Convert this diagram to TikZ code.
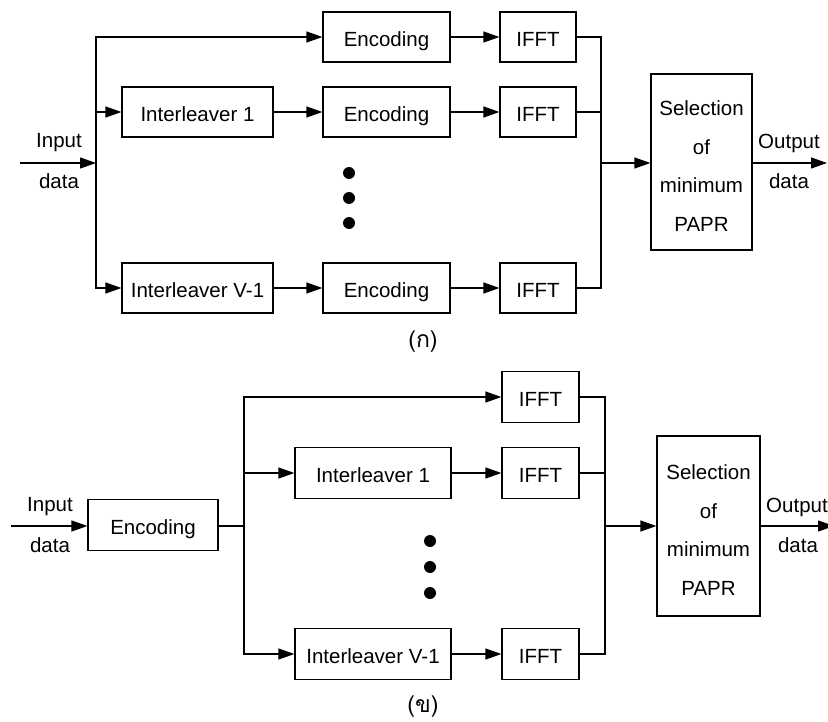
\documentclass[tikz,border=0pt]{standalone}
\usepackage{fontspec}
\setmainfont{Liberation Sans}
\newfontfamily\thaifont[Script=Thai]{Loma}
\usetikzlibrary{arrows.meta}

\begin{document}
\begin{tikzpicture}[x=1pt,y=-1pt,
  every node/.style={font=\fontsize{20.5}{24}\selectfont, inner sep=0pt},
  blk/.style={draw, line width=1.2pt, minimum height=50pt, text height=19pt, text depth=0pt},
  wire/.style={line width=1.2pt},
  arr/.style={wire, -{Triangle[length=16pt,width=11pt]}},
  seltext/.style={align=center, font=\fontsize{20.5}{38.5}\selectfont},
  dot/.style={circle, fill=black, minimum size=12pt},
  caption/.style={font=\thaifont\fontsize{23}{26}\selectfont}
]
\useasboundingbox (0,0) rectangle (828,722);

% ---------- (a): interleave, then encode each branch ----------
\coordinate (ina) at (20,163);
\coordinate (busa) at (96,163);
\coordinate (cola) at (601,163);
\coordinate (outa) at (827,163);

\node[blk, minimum width=127pt] (enc1a) at (386.5,37) {Encoding};
\node[blk, minimum width=76pt]  (ifft1a) at (538,37) {IFFT};
\node[blk, minimum width=151pt] (il1a) at (197.5,112) {Interleaver 1};
\node[blk, minimum width=127pt] (enc2a) at (386.5,112) {Encoding};
\node[blk, minimum width=76pt]  (ifft2a) at (538,112) {IFFT};
\node[blk, minimum width=151pt] (ilva) at (197.5,288) {Interleaver V-1};
\node[blk, minimum width=127pt] (enc3a) at (386.5,288) {Encoding};
\node[blk, minimum width=76pt]  (ifft3a) at (538,288) {IFFT};
\node[blk, minimum width=101pt, minimum height=176pt] (sela) at (701.5,162) {};
\node[seltext] (selta) at (701.5,166) {Selection\\of\\minimum\\PAPR};

\node[dot] (d1a) at (349,173) {};
\node[dot] (d2a) at (349,198) {};
\node[dot] (d3a) at (349,223) {};

\node (intxa) at (59,143) {Input};
\node (indxa) at (59,181) {data};
\node (outtxa) at (789,143) {Output};
\node (outdxa) at (789,181) {data};
\node[caption] (capa) at (423,342) {(ก)};

\draw[arr] (ina) -- (busa);
\draw[wire] (busa |- enc1a) -- (busa |- ilva);
\draw[arr] (busa) |- (enc1a.west);
\draw[arr] (busa) |- (il1a.west);
\draw[arr] (busa) |- (ilva.west);
\draw[arr] (il1a) -- (enc2a);
\draw[arr] (ilva) -- (enc3a);
\draw[arr] (enc1a) -- (ifft1a);
\draw[arr] (enc2a) -- (ifft2a);
\draw[arr] (enc3a) -- (ifft3a);
\draw[wire] (ifft1a.east) -| (cola);
\draw[wire] (ifft2a.east) -| (cola);
\draw[wire] (ifft3a.east) -| (cola);
\draw[arr] (cola) -- (sela.west |- cola);
\draw[arr] (sela.east |- outa) -- (outa);

% ---------- (b): encode once, then interleave each branch ----------
\coordinate (inb) at (11,526);
\coordinate (busb) at (244,526);
\coordinate (colb) at (605,526);
\coordinate (outb) at (834,526);

\node[blk, minimum width=130pt, minimum height=51pt] (encb) at (153,525) {Encoding};
\node[blk, minimum width=77pt, minimum height=51pt]  (ifft1b) at (540.5,397) {IFFT};
\node[blk, minimum width=156pt, minimum height=51pt] (il1b) at (373,473) {Interleaver 1};
\node[blk, minimum width=77pt, minimum height=51pt]  (ifft2b) at (540.5,473) {IFFT};
\node[blk, minimum width=156pt, minimum height=51pt] (ilvb) at (373,654) {Interleaver V-1};
\node[blk, minimum width=77pt, minimum height=51pt]  (ifft3b) at (540.5,654) {IFFT};
\node[blk, minimum width=103pt, minimum height=180pt] (selb) at (708.5,526) {};
\node[seltext] (seltb) at (708.5,530) {Selection\\of\\minimum\\PAPR};

\node[dot] (d1b) at (430,541) {};
\node[dot] (d2b) at (430,567) {};
\node[dot] (d3b) at (430,593) {};

\node (intxb) at (50,507) {Input};
\node (indxb) at (50,545) {data};
\node (outtxb) at (797,507) {Output};
\node (outdxb) at (798,545) {data};
\node[caption] (capb) at (423,707) {(ข)};

\draw[arr] (inb) -- (encb.west |- inb);
\draw[wire] (encb.east |- busb) -- (busb);
\draw[wire] (busb |- ifft1b) -- (busb |- ilvb);
\draw[arr] (busb) |- (ifft1b.west);
\draw[arr] (busb) |- (il1b.west);
\draw[arr] (busb) |- (ilvb.west);
\draw[arr] (il1b) -- (ifft2b);
\draw[arr] (ilvb) -- (ifft3b);
\draw[wire] (ifft1b.east) -| (colb);
\draw[wire] (ifft2b.east) -| (colb);
\draw[wire] (ifft3b.east) -| (colb);
\draw[arr] (colb) -- (selb.west |- colb);
\draw[arr] (selb.east |- outb) -- (outb);
\end{tikzpicture}
\end{document}
